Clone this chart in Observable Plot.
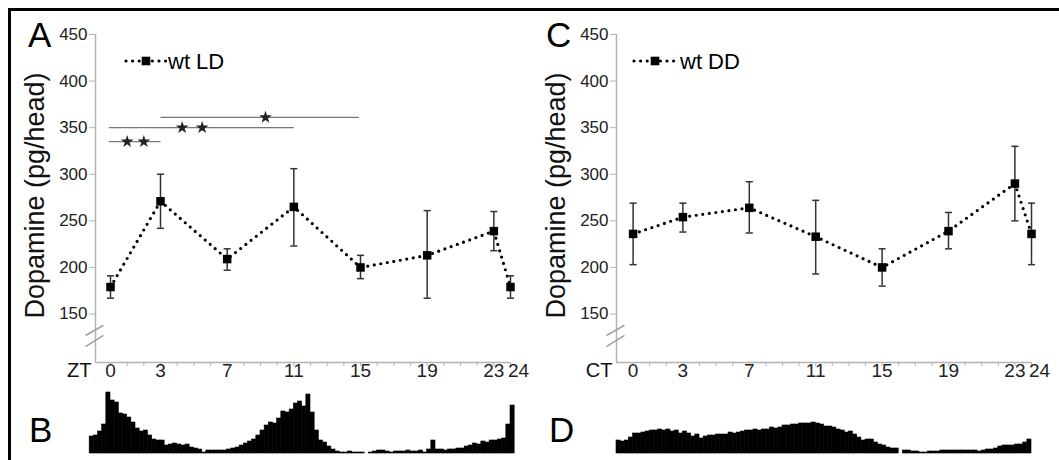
<!DOCTYPE html>
<html>
<head>
<meta charset="utf-8">
<script src="https://cdn.jsdelivr.net/npm/d3@7"></script>
<script src="https://cdn.jsdelivr.net/npm/@observablehq/plot@0.6"></script>
<style>
  html, body { margin: 0; padding: 0; background: #fff; }
  #root { position: relative; width: 1059px; height: 460px; overflow: hidden; background: #fff;
          font-family: "Liberation Sans", Arial, sans-serif; }
  .abs { position: absolute; }
  .abs svg { overflow: visible; }
</style>
</head>
<body>
<div id="root">
  <div class="abs" style="left:8px;top:8px;width:1100px;height:500px;border-top:3px solid #000;border-left:3px solid #000;box-sizing:border-box"></div>
</div>
<script>
// ---------- data ----------
const hoursLD = [0, 3, 7, 11, 15, 19, 23, 24];
const meanLD  = [179, 271, 209, 265, 200, 213, 239, 179];
const lowLD   = [167, 242, 197, 223, 188, 167, 218, 167];
const highLD  = [191, 300, 220, 306, 213, 261, 260, 191];

const hoursDD = [0, 3, 7, 11, 15, 19, 23, 24];
const meanDD  = [236, 254, 264, 233, 200, 239, 290, 236];
const lowDD   = [203, 238, 237, 193, 180, 220, 250, 203];
const highDD  = [269, 269, 292, 272, 220, 259, 330, 269];

const yTicks = [150, 200, 250, 300, 350, 400, 450];
const hourTicks = d3.range(0, 25);
const xLabels = [0, 3, 7, 11, 15, 19, 23, 24];

// significance comparisons (LD)
const sigFrom  = [-0.1, -0.1, 3];
const sigTo    = [3, 11, 14.9];
const sigLevel = [335, 350, 361];
const starX = [1, 2, 4.3, 5.5, 9.3];
const starY = [335, 335, 350, 350, 361];

// activity histograms (0.25 h bins)
const binWidth = 0.25;
const histBStart = -1.25;
const histB = [17,18,22,29,61,53,51,40,39,36,31,25,22,23,18,14,13,13,8,9,
  10,9,8,9,6,5,4,1,3,3,3,3,3,4,5,6,8,10,12,14,
  18,23,28,31,30,35,42,41,44,50,52,47,59,41,23,13,11,7,4,2,
  1,1,2,1,1,1,0,1,2,3,3,2,1,2,2,2,3,2,2,3,
  1,4,13,4,4,3,4,4,5,5,7,8,10,9,12,11,13,13,14,15,29,48];
const histDStart = -1;
const histD = [13,12,13,16,20,20,21,22,23,23,24,23,24,22,23,20,22,20,17,19,
  15,17,18,18,19,19,19,21,20,21,22,23,23,24,23,24,24,26,25,26,
  28,28,29,29,30,30,30,31,30,29,27,27,26,24,23,21,22,19,16,13,
  14,14,11,9,8,6,5,5,0,3,3,2,2,1,1,2,2,2,3,3,
  3,3,3,3,3,3,3,2,3,4,4,5,7,8,8,8,9,9,11,14];

// ---------- drawing ----------
const FONT = '"Liberation Sans", Arial, sans-serif';
const root = document.getElementById("root");
function place(node, left, top) {
  const d = document.createElement("div");
  d.className = "abs";
  d.style.left = left + "px";
  d.style.top = top + "px";
  d.appendChild(node);
  root.appendChild(d);
}

const capSymbol = {
  draw(ctx, size) { const w = Math.sqrt(size); ctx.moveTo(-w, 0); ctx.lineTo(w, 0); }
};

function panel({hours, mean, low, high, xMin, width, marginLeft, marginRight, axisName, sig, stars}) {
  const data = hours.map((t, i) => ({t, mean: mean[i], low: low[i], high: high[i]}));
  const breaks = [
    {x1: xMin - 0.6, y1: 127, x2: xMin + 0.48, y2: 138},
    {x1: xMin - 0.6, y1: 115, x2: xMin + 0.48, y2: 127}
  ];
  return Plot.plot({
    width, height: 390,
    marginTop: 34, marginBottom: 28, marginLeft, marginRight,
    x: {domain: [xMin, 24], axis: null},
    y: {domain: [98, 450], axis: null},
    style: {fontFamily: FONT, color: "#222", background: "transparent", overflow: "visible"},
    marks: [
      Plot.ruleX([xMin], {stroke: "#b4b4b4", strokeWidth: 1.5}),
      Plot.ruleY([98], {stroke: "#b4b4b4", strokeWidth: 1.5}),
      Plot.axisY({ticks: yTicks, tickSize: 6, tickPadding: 2, stroke: "#b4b4b4", fill: "#222", fontSize: 17}),
      Plot.axisX({ticks: hourTicks, tickSize: 4, tickFormat: () => "", stroke: "#b4b4b4"}),
      Plot.text(xLabels.filter(d => d !== 24), {x: d => d, frameAnchor: "bottom", dy: 14, fontSize: 19, fill: "#222"}),
      Plot.text(xLabels.filter(d => d === 24), {x: d => d, frameAnchor: "bottom", dy: 14, dx: 8, fontSize: 19, fill: "#222"}),
      Plot.text([axisName], {frameAnchor: "bottom-left", dx: -4, dy: 14, textAnchor: "end", fontSize: 20, fill: "#111"}),
      Plot.text(["Dopamine (pg/head)"], {frameAnchor: "left", dx: -60, dy: -3, rotate: -90, textAnchor: "middle", fontSize: 27, fill: "#111"}),
      Plot.link(breaks, {x1: "x1", y1: "y1", x2: "x2", y2: "y2", stroke: "#a0a0a0", strokeWidth: 1.5}),
      Plot.link(sig, {x1: "x1", x2: "x2", y1: "y", y2: "y", stroke: "#777", strokeWidth: 1.2}),
      Plot.dot(stars, {x: "x", y: "y", symbol: "star", fill: "#222", r: 4}),
      Plot.line(data, {x: "t", y: "mean", stroke: "#000", strokeWidth: 3.2, strokeDasharray: "0,6.6", strokeLinecap: "round"}),
      Plot.ruleX(data, {x: "t", y1: "low", y2: "high", stroke: "#333", strokeWidth: 1.5}),
      Plot.dot(data, {x: "t", y: "low", symbol: capSymbol, r: 2, stroke: "#333", strokeWidth: 1.5}),
      Plot.dot(data, {x: "t", y: "high", symbol: capSymbol, r: 2, stroke: "#333", strokeWidth: 1.5}),
      Plot.dot(data, {x: "t", y: "mean", symbol: "square", r: 4.8, fill: "#000"})
    ]
  });
}

function hist({values, start, xMin, width, marginLeft, marginRight}) {
  const bins = values.map((v, i) => ({x1: start + i * binWidth, x2: start + (i + 1) * binWidth, v}));
  return Plot.plot({
    width, height: 65, marginTop: 0, marginBottom: 0, marginLeft, marginRight,
    x: {domain: [xMin, 24], axis: null},
    y: {domain: [0, 65], axis: null},
    style: {background: "transparent", overflow: "visible"},
    marks: [
      Plot.rectY(bins, {x1: "x1", x2: "x2", y: "v", fill: "#000", stroke: "#000", strokeWidth: 0.6, inset: 0})
    ]
  });
}

const sigLD = sigFrom.map((x1, i) => ({x1, x2: sigTo[i], y: sigLevel[i]}));
const starsLD = starX.map((x, i) => ({x, y: starY[i]}));

place(panel({hours: hoursLD, mean: meanLD, low: lowLD, high: highLD, xMin: -0.9,
  width: 540, marginLeft: 95, marginRight: 30, axisName: "ZT", sig: sigLD, stars: starsLD}), 0, 0);
place(panel({hours: hoursDD, mean: meanDD, low: lowDD, high: highDD, xMin: -1,
  width: 529, marginLeft: 86, marginRight: 28, axisName: "CT", sig: [], stars: []}), 530, 0);

place(hist({values: histB, start: histBStart, xMin: -0.9, width: 540, marginLeft: 95, marginRight: 30}), 0, 388);
place(hist({values: histD, start: histDStart, xMin: -1, width: 529, marginLeft: 86, marginRight: 28}), 530, 388);

// ---------- overlay: panel letters + legends ----------
const ns = "http://www.w3.org/2000/svg";
const ov = document.createElementNS(ns, "svg");
ov.setAttribute("width", 1059);
ov.setAttribute("height", 460);
ov.style.fontFamily = FONT;
function txt(s, x, y, size) {
  const t = document.createElementNS(ns, "text");
  t.setAttribute("x", x); t.setAttribute("y", y);
  t.setAttribute("font-size", size); t.setAttribute("fill", "#000");
  t.textContent = s; ov.appendChild(t);
}
function legend(x0, x1, xs, y, label, tx) {
  const l = document.createElementNS(ns, "line");
  l.setAttribute("x1", x0); l.setAttribute("x2", x1);
  l.setAttribute("y1", y); l.setAttribute("y2", y);
  l.setAttribute("stroke", "#000"); l.setAttribute("stroke-width", 3.2);
  l.setAttribute("stroke-dasharray", "0,6.6"); l.setAttribute("stroke-linecap", "round");
  ov.appendChild(l);
  const r = document.createElementNS(ns, "rect");
  r.setAttribute("x", xs - 4.3); r.setAttribute("y", y - 4.3);
  r.setAttribute("width", 8.6); r.setAttribute("height", 8.6); r.setAttribute("fill", "#000");
  ov.appendChild(r);
  txt(label, tx, y + 7.5, 22);
}
txt("A", 28, 47, 35);
txt("B", 29, 442, 35);
txt("C", 546, 47, 35);
txt("D", 549, 442, 35);
legend(126, 166, 146, 61, "wt LD", 168);
legend(634, 676, 655, 61, "wt DD", 680);
place(ov, 0, 0);
</script>
</body>
</html>
